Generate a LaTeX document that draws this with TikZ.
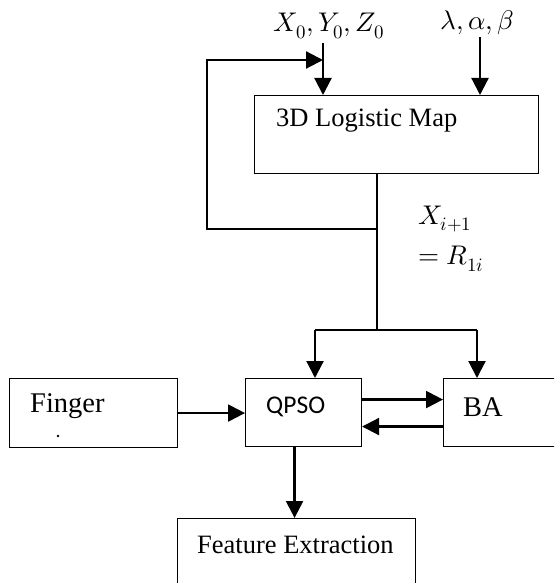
\documentclass[tikz,border=0pt]{standalone}
\usepackage{fontspec}
\usepackage{unicode-math}
\setmainfont{Liberation Serif}
\setmathfont{Latin Modern Math}
\newfontfamily\qpsofont{Carlito}
\usetikzlibrary{arrows.meta}

\tikzset{
  blk/.style={draw, line width=1.1pt, inner sep=0pt},
  lbl/.style={anchor=west, inner sep=0pt, font=\fontsize{26.5}{30}\selectfont},
  mlbl/.style={inner sep=0pt, font=\fontsize{27}{30}\selectfont},
  wire/.style={line width=2.2pt},
  flow/.style={line width=2.2pt, -{Triangle[length=17pt,width=17pt]}},
}

\begin{document}
\begin{tikzpicture}[x=1pt,y=-1pt]
  \clip (0,0) rectangle (554,583);

  % boxes
  \node[blk, anchor=north west, minimum width=284pt, minimum height=78pt] (logmap) at (254,95) {};
  \node[lbl] (logmaptxt) at (276,121) {3D Logistic Map};

  \node[blk, anchor=north west, minimum width=168pt, minimum height=69pt] (finger) at (9,378) {};
  \node[lbl, font=\fontsize{28.5}{30}\selectfont] (fingertxt) at (30,406) {Finger};
  \fill (58,436) circle [radius=1.4];

  \node[blk, anchor=north west, minimum width=116pt, minimum height=68pt] (qpso) at (245,378) {};
  \node[lbl, font=\qpsofont\fontsize{25.5}{30}\selectfont] (qpsotxt) at (266,407) {QPSO};

  \node[blk, anchor=north west, minimum width=125pt, minimum height=68pt] (ba) at (443,378) {};
  \node[lbl, font=\fontsize{28.5}{30}\selectfont] (batxt) at (463,407) {BA};

  \node[blk, anchor=north west, minimum width=238pt, minimum height=90pt] (feat) at (177,518) {};
  \node[lbl] (feattxt) at (197,545) {Feature Extraction};

  % inputs
  \node[mlbl] (init) at (329,26) {$X_0,Y_0,Z_0$};
  \node[mlbl] (param) at (477,23) {$\lambda,\alpha,\beta$};
  \coordinate (initin) at (323,43);
  \coordinate (paramin) at (480,37);
  \draw[flow] (initin) -- (initin |- logmap.north);
  \draw[flow] (paramin) -- (paramin |- logmap.north);

  % feedback and output of the map
  \coordinate (split) at (377,229);
  \coordinate (fb) at (207,229);
  \coordinate (fbtop) at (207,60);
  \coordinate (join) at (377,330);
  \draw[wire] (logmap.south -| split) -- (join);
  \draw[flow] (split) -- (fb) -- (fbtop) -- (fbtop -| initin);
  \node[mlbl, anchor=west] (xnext) at (418,219) {$X_{i+1}$};
  \node[mlbl, anchor=west] (rval) at (418,259) {$=R_{1i}$};

  \coordinate (qtop) at (315,330);
  \coordinate (btop) at (477,330);
  \draw[wire] (qtop) -- (btop);
  \draw[flow] (qtop) -- (qtop |- qpso.north);
  \draw[flow] (btop) -- (btop |- ba.north);

  % lower chain
  \draw[flow] (finger.east) -- (finger.east -| qpso.west);
  \draw[flow] ([yshift=13pt]qpso.east) -- ([yshift=13pt]qpso.east -| ba.west);
  \draw[flow] ([yshift=-14pt]ba.west) -- ([yshift=-14pt]ba.west -| qpso.east);
  \draw[flow] ([xshift=-9pt]qpso.south) -- ([xshift=-9pt]qpso.south |- feat.north);
\end{tikzpicture}
\end{document}
